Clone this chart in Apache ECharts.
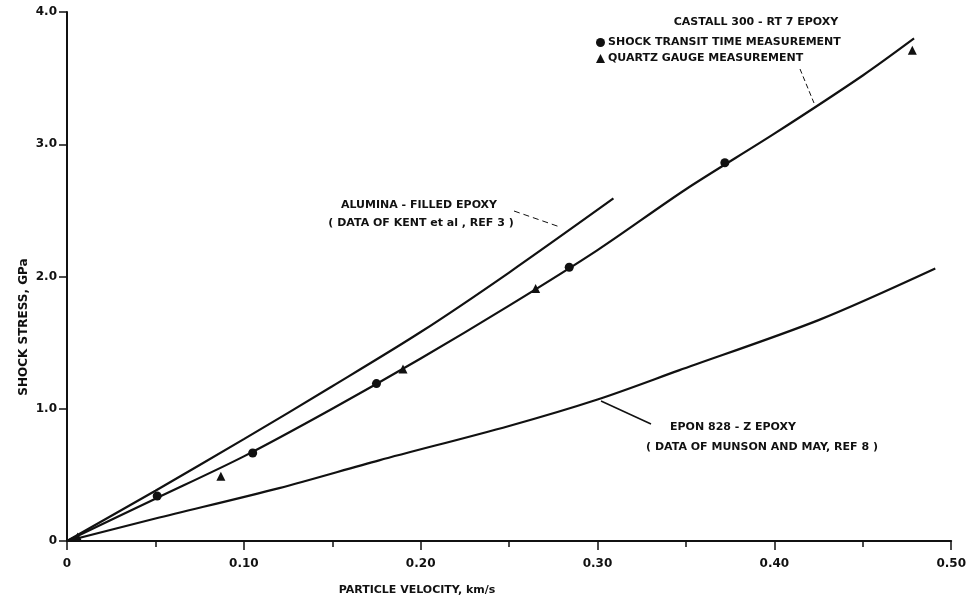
<!DOCTYPE html>
<html>
<head>
<meta charset="utf-8">
<script src="https://cdn.jsdelivr.net/npm/echarts@6/dist/echarts.min.js"></script>
<style>
html,body{margin:0;padding:0;background:#fff;}
#chart{width:969px;height:602px;}
</style>
</head>
<body>
<div id="chart"></div>
<script>
// curve readings (particle velocity km/s, shock stress GPa)
const velAlumina = [0, 0.05, 0.10, 0.15, 0.20, 0.25, 0.309];
const stressAlumina = [0, 0.38, 0.77, 1.17, 1.58, 2.03, 2.59];
const velCastall = [0, 0.05, 0.10, 0.15, 0.20, 0.25, 0.30, 0.35, 0.40, 0.45, 0.479];
const stressCastall = [0, 0.32, 0.64, 1.0, 1.38, 1.78, 2.2, 2.66, 3.08, 3.52, 3.80];
const velEpon = [0, 0.05, 0.12, 0.1765, 0.25, 0.30, 0.346, 0.425, 0.491];
const stressEpon = [0, 0.17, 0.40, 0.61, 0.87, 1.07, 1.29, 1.67, 2.06];
// measured points
const velTransit = [0.051, 0.105, 0.175, 0.284, 0.372];
const stressTransit = [0.34, 0.665, 1.19, 2.07, 2.86];
const velQuartz = [0.006, 0.087, 0.190, 0.265, 0.478];
const stressQuartz = [0.03, 0.49, 1.30, 1.91, 3.71];
// axis labels
const xTicks = {0: '0', 0.1: '0.10', 0.2: '0.20', 0.3: '0.30', 0.4: '0.40', 0.5: '0.50'};
const yTicks = {0: '0', 1: '1.0', 2: '2.0', 3: '3.0', 4: '4.0'};

function pairs(xs, ys){
    return xs.map(function(x, i){ return [x, ys[i]]; });
}

const ink = '#111';
const font = 'DejaVu Sans';
function label(text, x, y, align){
    return {type: 'text', x: x, y: y, style: {
        text: text, fill: ink, fontFamily: font, fontWeight: 'bold', fontSize: 11,
        textAlign: align || 'center', textVerticalAlign: 'middle'
    }};
}

const chart = echarts.init(document.getElementById('chart'));
chart.setOption({
    backgroundColor: '#fff',
    animation: false,
    grid: {left: 67, right: 16, top: 12, bottom: 61},
    xAxis: {
        type: 'value', min: 0, max: 0.5, interval: 0.1,
        axisLine: {lineStyle: {color: ink, width: 2}},
        axisTick: {length: 9, lineStyle: {color: ink, width: 1.5}},
        minorTick: {show: true, splitNumber: 2, length: 6, lineStyle: {color: ink, width: 1.5}},
        splitLine: {show: false},
        axisLabel: {
            color: ink, fontFamily: font, fontWeight: 'bold', fontSize: 12, margin: 17,
            formatter: function(v){ return xTicks[Math.round(v*10)/10]; }
        }
    },
    yAxis: {
        type: 'value', min: 0, max: 4, interval: 1,
        axisLine: {show: true, lineStyle: {color: ink, width: 2}},
        axisTick: {show: true, length: 8, lineStyle: {color: ink, width: 1.5}},
        splitLine: {show: false},
        axisLabel: {
            color: ink, fontFamily: font, fontWeight: 'bold', fontSize: 12, margin: 10,
            formatter: function(v){ return yTicks[v]; }
        }
    },
    legend: {
        orient: 'vertical', left: 591, top: 32, itemGap: 5,
        itemWidth: 9, itemHeight: 9,
        textStyle: {color: ink, fontFamily: font, fontWeight: 'bold', fontSize: 11, padding: [0,0,0,-2]},
        data: ['SHOCK TRANSIT TIME MEASUREMENT', 'QUARTZ GAUGE MEASUREMENT']
    },
    series: [
        {name: 'ALUMINA', type: 'line', smooth: 0.3, symbol: 'none',
         lineStyle: {color: ink, width: 2.2}, data: pairs(velAlumina, stressAlumina)},
        {name: 'CASTALL', type: 'line', smooth: 0.3, symbol: 'none',
         lineStyle: {color: ink, width: 2.2}, data: pairs(velCastall, stressCastall)},
        {name: 'EPON', type: 'line', smooth: 0.3, symbol: 'none',
         lineStyle: {color: ink, width: 2.2}, data: pairs(velEpon, stressEpon)},
        {name: 'SHOCK TRANSIT TIME MEASUREMENT', type: 'scatter', symbol: 'circle', symbolSize: 9,
         itemStyle: {color: ink, opacity: 1}, data: pairs(velTransit, stressTransit)},
        {name: 'QUARTZ GAUGE MEASUREMENT', type: 'scatter', symbol: 'triangle', symbolSize: 9,
         itemStyle: {color: ink, opacity: 1}, data: pairs(velQuartz, stressQuartz)}
    ],
    graphic: [
        {type: 'text', x: 24, y: 327, rotation: Math.PI/2, style: {
            text: 'SHOCK STRESS, GPa', fill: ink, fontFamily: font, fontWeight: 'bold', fontSize: 12,
            textAlign: 'center', textVerticalAlign: 'middle'}},
        label('PARTICLE VELOCITY, km/s', 417, 590),
        label('CASTALL 300 - RT 7 EPOXY', 756, 22),
        {type: 'line', shape: {x1: 800, y1: 69, x2: 814, y2: 103}, style: {stroke: ink, lineWidth: 1, lineDash: [5, 3]}},
        label('ALUMINA - FILLED EPOXY', 419, 205),
        label('( DATA OF KENT et al , REF 3 )', 421, 223),
        {type: 'line', shape: {x1: 514, y1: 211, x2: 560, y2: 227}, style: {stroke: ink, lineWidth: 1, lineDash: [6, 4]}},
        label('EPON 828 - Z EPOXY', 733, 427),
        label('( DATA OF MUNSON AND MAY, REF 8 )', 762, 447),
        {type: 'line', shape: {x1: 601, y1: 401, x2: 651, y2: 424}, style: {stroke: ink, lineWidth: 1.5}}
    ]
});
</script>
</body>
</html>
